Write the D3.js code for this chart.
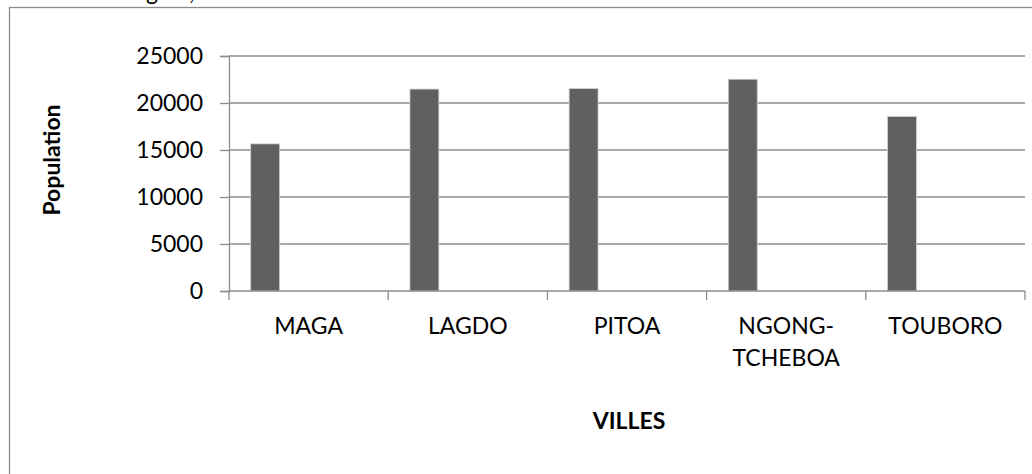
<!DOCTYPE html>
<html>
<head>
<meta charset="utf-8">
<script src="https://cdn.jsdelivr.net/npm/d3@7"></script>
<style>
  html, body { margin: 0; padding: 0; background: #fff; }
  svg { display: block; font-family: Lato, "Open Sans", sans-serif; }
</style>
</head>
<body>
<svg id="chart" width="1032" height="474"></svg>
<script>
// ---- data ----
const categories = ["MAGA", "LAGDO", "PITOA", "NGONG-\nTCHEBOA", "TOUBORO"];
const population = [15650, 21480, 21530, 22530, 18560];
const seriesSlots = ["Population", "s2", "s3", "s4"]; // Excel-style cluster slots (only first filled)
const yTicks = [0, 5000, 10000, 15000, 20000, 25000];
const yTitle = "Population";
const xTitle = "VILLES";
const topFragment = "gion,";

const svg = d3.select("#chart");
const W = 1032, H = 474;
const plot = { left: 229, right: 1025, top: 56, bottom: 291 };

// outer frame (extends beyond the picture on the right and bottom)
svg.append("rect")
  .attr("x", 9.5).attr("y", 7.5)
  .attr("width", 1100).attr("height", 600)
  .attr("fill", "#fff").attr("stroke", "#8c8c8c").attr("stroke-width", 1.3);

// cut-off caption fragment at the very top
svg.append("text")
  .attr("x", 146).attr("y", 0)
  .attr("font-size", 23).attr("fill", "#000")
  .text(topFragment);

const x = d3.scaleBand().domain(categories).range([plot.left, plot.right]).padding(0);
const xSub = d3.scaleBand().domain(seriesSlots).range([0, x.bandwidth()])
  .paddingInner(0).paddingOuter(0.75);
const y = d3.scaleLinear().domain([0, 25000]).range([plot.bottom, plot.top]);

const gridColor = "#8c8c8c";

// gridlines + y axis
const yAxis = d3.axisLeft(y).tickValues(yTicks).tickSize(9).tickPadding(17).tickFormat(d3.format("d"));
const gy = svg.append("g").attr("transform", `translate(${plot.left},0)`).call(yAxis);
gy.select(".domain").attr("stroke", gridColor).attr("stroke-width", 1.3);
gy.selectAll(".tick line").attr("stroke", gridColor).attr("stroke-width", 1.3);
gy.selectAll(".tick text").attr("font-size", 23).attr("fill", "#000").attr("font-family", "Lato, sans-serif");

svg.append("g").selectAll("line").data(yTicks.filter(d => d > 0)).join("line")
  .attr("x1", plot.left).attr("x2", plot.right)
  .attr("y1", d => y(d)).attr("y2", d => y(d))
  .attr("stroke", gridColor).attr("stroke-width", 1.3);

// bars
svg.append("g").selectAll("rect").data(categories).join("rect")
  .attr("x", (d) => x(d) + xSub(seriesSlots[0]))
  .attr("width", xSub.bandwidth())
  .attr("y", (d, i) => y(population[i]))
  .attr("height", (d, i) => y(0) - y(population[i]))
  .attr("fill", "#606060")
  .attr("stroke", "#d0d0d0").attr("stroke-width", 0.8);

// x axis (ticks at category boundaries)
const boundaries = categories.map(c => x(c)).concat([plot.right]);
const gx = svg.append("g");
gx.append("line")
  .attr("x1", plot.left).attr("x2", plot.right)
  .attr("y1", y(0)).attr("y2", y(0))
  .attr("stroke", gridColor).attr("stroke-width", 1.3);
gx.selectAll("line.tk").data(boundaries).join("line").attr("class", "tk")
  .attr("x1", d => d).attr("x2", d => d)
  .attr("y1", y(0)).attr("y2", y(0) + 9)
  .attr("stroke", gridColor).attr("stroke-width", 1.3);

// category labels
const lbl = svg.append("g").selectAll("text").data(categories).join("text")
  .attr("text-anchor", "middle")
  .attr("font-size", 23).attr("fill", "#000")
  .attr("transform", d => `translate(${x(d) + x.bandwidth() / 2},${334})`);
lbl.each(function(d) {
  const lines = d.split("\n");
  d3.select(this).selectAll("tspan").data(lines).join("tspan")
    .attr("x", 0).attr("dy", (l, i) => i === 0 ? 0 : 32)
    .text(l => l);
});

// axis titles
svg.append("text")
  .attr("transform", `translate(60,160) rotate(-90)`)
  .attr("text-anchor", "middle")
  .attr("font-size", 23).attr("font-weight", "bold").attr("fill", "#000")
  .text(yTitle);

svg.append("text")
  .attr("x", 629).attr("y", 429)
  .attr("text-anchor", "middle")
  .attr("font-size", 23).attr("font-weight", "bold").attr("fill", "#000")
  .text(xTitle);
</script>
</body>
</html>
